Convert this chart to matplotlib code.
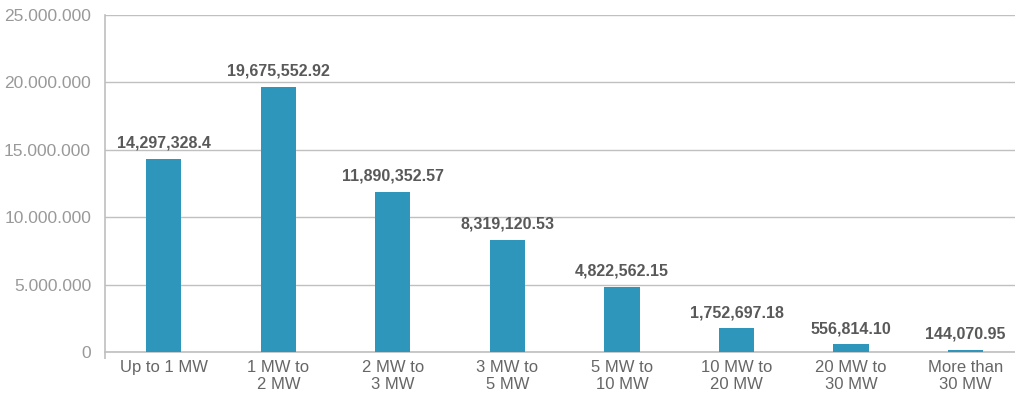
import matplotlib.pyplot as plt
from matplotlib.ticker import FuncFormatter

categories = ["Up to 1 MW", "1 MW to\n2 MW", "2 MW to\n3 MW", "3 MW to\n5 MW",
              "5 MW to\n10 MW", "10 MW to\n20 MW", "20 MW to\n30 MW", "More than\n30 MW"]
values = [14297328.4, 19675552.92, 11890352.57, 8319120.53,
          4822562.15, 1752697.18, 556814.10, 144070.95]
value_labels = ["14,297,328.4", "19,675,552.92", "11,890,352.57", "8,319,120.53",
                "4,822,562.15", "1,752,697.18", "556,814.10", "144,070.95"]

plt.rcParams['font.family'] = ['Liberation Sans', 'DejaVu Sans']

fig = plt.figure(figsize=(10.15, 3.97), dpi=100)
ax = fig.add_axes([0.1034, 0.1134, 0.8966, 0.8488])

x = range(len(categories))
ax.bar(x, values, width=0.306, color="#2E96BA", zorder=3)

for xi, v, lab in zip(x, values, value_labels):
    ax.annotate(lab, (xi, v), xytext=(0, 6), textcoords="offset points",
                ha="center", va="bottom", fontsize=11.5, fontweight="bold",
                color="#595959")

ax.set_xlim(-0.515, 7.432)
ax.set_ylim(0, 25000000)
ax.set_yticks(range(0, 25000001, 5000000))
ax.yaxis.set_major_formatter(FuncFormatter(lambda v, p: f"{int(v):,}".replace(",", ".")))
ax.set_xticks(list(x))
ax.set_xticklabels(categories)
ax.set_xticks([-0.515], minor=True)

ax.grid(axis="y", color="#C0C0C0", linewidth=1, zorder=0)
for s in ["top", "right"]:
    ax.spines[s].set_visible(False)
for s in ["left", "bottom"]:
    ax.spines[s].set_color("#BFBFBF")
    ax.spines[s].set_linewidth(1.2)

ax.tick_params(axis="y", length=0, pad=10, labelsize=12.5, labelcolor="#999999")
ax.tick_params(axis="x", which="major", length=0, pad=6, labelsize=12, labelcolor="#666666")
ax.tick_params(axis="x", which="minor", length=5, color="#BFBFBF", width=1.2)
for t in ax.get_xticklabels():
    t.set_linespacing(1.15)

fig.savefig("out.png", dpi=100)
